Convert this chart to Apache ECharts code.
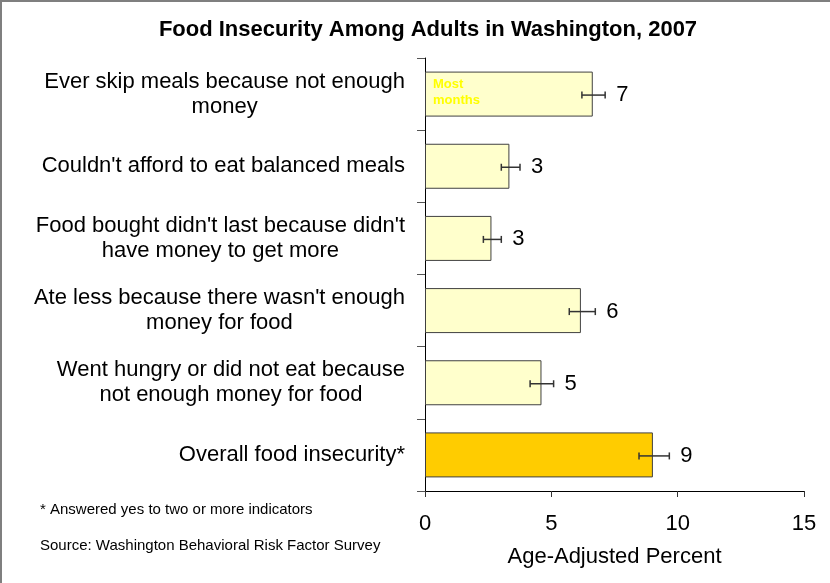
<!DOCTYPE html>
<html>
<head>
<meta charset="utf-8">
<script src="https://cdn.jsdelivr.net/npm/echarts@6/dist/echarts.min.js"></script>
<style>
html,body{margin:0;padding:0;background:#fff;}
#chart{width:830px;height:583px;}
</style>
</head>
<body>
<div id="chart"></div>
<script>
const categories = [
  "Ever skip meals because not enough\nmoney",
  "Couldn't afford to eat balanced meals",
  "Food bought didn't last because didn't\nhave money to get more",
  "Ate less because there wasn't enough\nmoney for food",
  "Went hungry or did not eat because\nnot enough money for food",
  "Overall food insecurity*"
];
const values = [6.64, 3.34, 2.63, 6.17, 4.61, 9.02];
const ciLow  = [6.21, 3.02, 2.31, 5.71, 4.16, 8.47];
const ciHigh = [7.13, 3.76, 3.02, 6.74, 5.09, 9.67];
const valueLabels = ["7", "3", "3", "6", "5", "9"];
const barColors = ["#FFFFCC", "#FFFFCC", "#FFFFCC", "#FFFFCC", "#FFFFCC", "#FFCC00"];
const insideNote = "Most\nmonths";
const titleText = "Food Insecurity Among Adults in Washington, 2007";
const footnote = "* Answered yes to two or more indicators";
const sourceNote = "Source: Washington Behavioral Risk Factor Survey";
const xAxisName = "Age-Adjusted Percent";
const xMin = 0, xMax = 15, xInterval = 5;

const FONT = "'Liberation Sans', Arial, sans-serif";
const chart = echarts.init(document.getElementById('chart'), null, {renderer: 'canvas'});

const barData = values.map((v, i) => {
  const item = { value: v, itemStyle: { color: barColors[i] } };
  if (i === 0) {
    item.label = {
      show: true, position: 'insideLeft', formatter: insideNote,
      color: '#FFFF00', fontWeight: 'bold', fontSize: 13, lineHeight: 16,
      fontFamily: FONT, offset: [0, -2], distance: 8
    };
  }
  return item;
});

const errData = values.map((v, i) => [i, ciLow[i], ciHigh[i], valueLabels[i]]);

const option = {
  animation: false,
  backgroundColor: '#ffffff',
  textStyle: { fontFamily: FONT },
  grid: { left: 425, right: 26, top: 58, bottom: 92, containLabel: false },
  xAxis: {
    type: 'value', min: xMin, max: xMax, interval: xInterval,
    name: xAxisName, nameLocation: 'middle', nameGap: 55,
    nameTextStyle: { fontSize: 22, color: '#000', fontFamily: FONT },
    axisLine: { show: true, lineStyle: { color: '#000', width: 1 } },
    axisTick: { show: true, length: 6, lineStyle: { color: '#333' } },
    axisLabel: { fontSize: 22, color: '#000', margin: 22, fontFamily: FONT },
    splitLine: { show: false }
  },
  yAxis: {
    type: 'category', data: categories, inverse: true,
    axisLine: { show: true, lineStyle: { color: '#000', width: 1 } },
    axisTick: { show: true, length: 8, inside: false, lineStyle: { color: '#555' } },
    axisLabel: {
      margin: 20, color: '#000', fontSize: 22, lineHeight: 25, fontFamily: FONT, align: 'right',
      formatter: function (val) {
        return val.split('\n').map(l => '{c|' + l + '}').join('\n');
      },
      rich: { c: { align: 'center', fontSize: 22, lineHeight: 25, color: '#000', fontFamily: FONT } }
    }
  },
  series: [
    {
      type: 'bar', data: barData, barWidth: 45,
      itemStyle: { borderColor: '#404040', borderWidth: 1 },
      z: 2
    },
    {
      type: 'custom', data: errData, z: 5,
      encode: { x: [1, 2], y: 0 },
      renderItem: function (params, api) {
        const cat = api.value(0);
        const lo = api.coord([api.value(1), cat]);
        const hi = api.coord([api.value(2), cat]);
        const y = lo[1] + 1;
        const cap = 3.5;
        const st = { stroke: '#333', lineWidth: 1.5 };
        return {
          type: 'group',
          children: [
            { type: 'line', shape: { x1: lo[0], y1: y, x2: hi[0], y2: y }, style: st },
            { type: 'line', shape: { x1: lo[0], y1: y - cap, x2: lo[0], y2: y + cap }, style: st },
            { type: 'line', shape: { x1: hi[0], y1: y - cap, x2: hi[0], y2: y + cap }, style: st },
            { type: 'text', style: {
                text: valueLabels[params.dataIndex], x: hi[0] + 11, y: y,
                align: 'left', verticalAlign: 'middle', textAlign: 'left', textVerticalAlign: 'middle',
                fontSize: 22, fontFamily: FONT, fill: '#000' } }
          ]
        };
      }
    }
  ],
  graphic: [
    { type: 'rect', shape: { x: 1, y: 1, width: 900, height: 700 },
      style: { fill: 'none', stroke: '#7f7f7f', lineWidth: 2 }, silent: true },
    { type: 'text', x: 428, y: 30, style: {
        text: titleText, align: 'center', verticalAlign: 'middle',
        textAlign: 'center', textVerticalAlign: 'middle',
        fontSize: 22, fontWeight: 'bold', fontFamily: FONT, fill: '#000' } },
    { type: 'text', x: 40, y: 510, style: {
        text: footnote, align: 'left', verticalAlign: 'middle',
        textAlign: 'left', textVerticalAlign: 'middle',
        fontSize: 15, fontFamily: FONT, fill: '#000' } },
    { type: 'text', x: 40, y: 546, style: {
        text: sourceNote, align: 'left', verticalAlign: 'middle',
        textAlign: 'left', textVerticalAlign: 'middle',
        fontSize: 15, fontFamily: FONT, fill: '#000' } }
  ]
};
chart.setOption(option);
</script>
</body>
</html>
